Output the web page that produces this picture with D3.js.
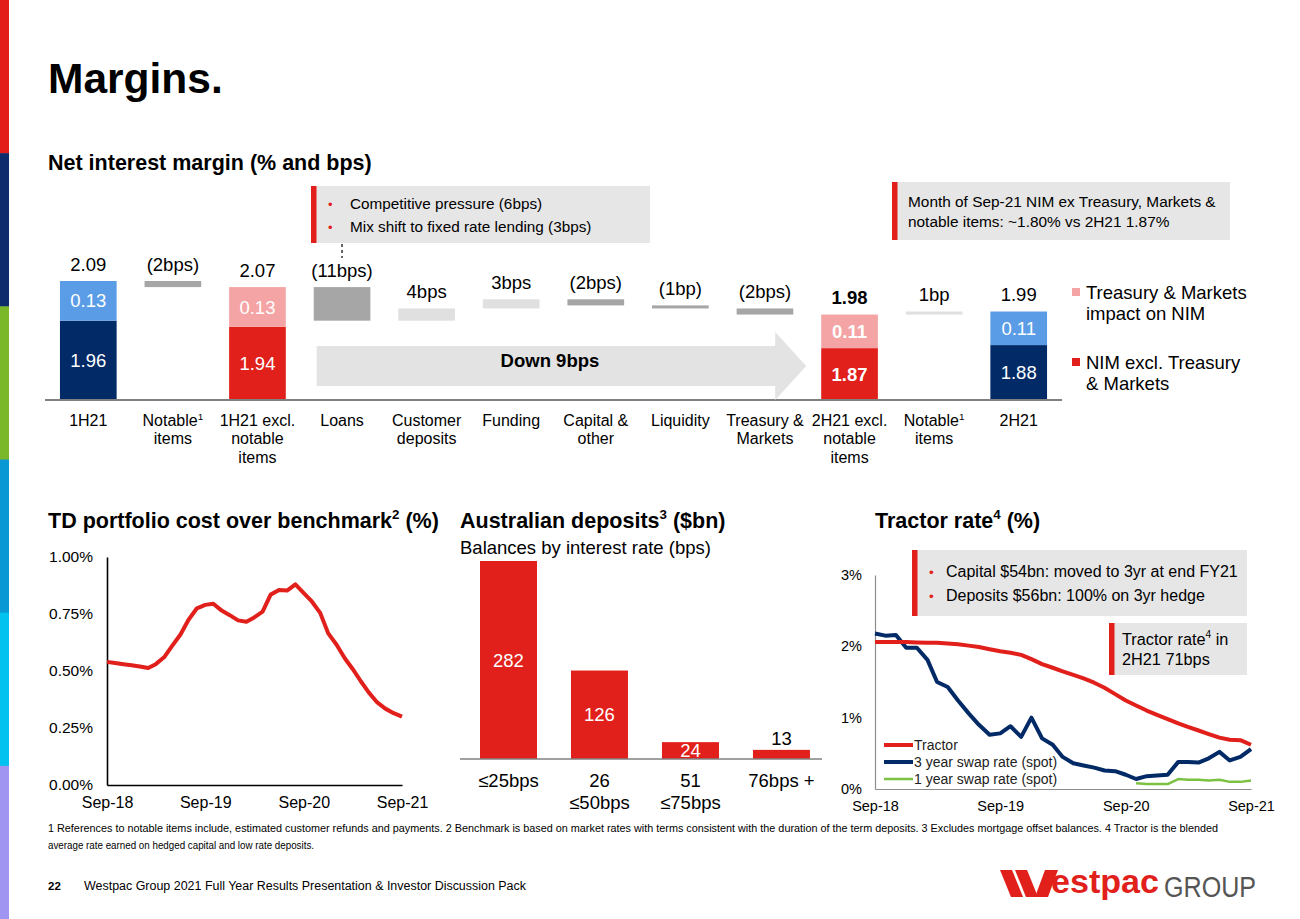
<!DOCTYPE html>
<html><head><meta charset="utf-8">
<script src="https://cdn.jsdelivr.net/npm/d3@7"></script>
<style>
body{margin:0;background:#fff}
svg{display:block;font-family:"Liberation Sans",Arial,sans-serif}
</style>
</head><body>
<svg id="c" width="1300" height="919"></svg>
<script>
// ---------------- DATA ----------------
// Net interest margin waterfall
const nimCategories = [["1H21"],["Notable^1","items"],["1H21 excl.","notable","items"],["Loans"],["Customer","deposits"],["Funding"],["Capital &","other"],["Liquidity"],["Treasury &","Markets"],["2H21 excl.","notable","items"],["Notable^1","items"],["2H21"]];
const nimKind = ["total","delta","total","delta","delta","delta","delta","delta","delta","total","delta","total"];
const nimValues = [2.09,-0.02,2.07,-0.11,0.04,0.03,-0.02,-0.01,-0.02,1.98,0.01,1.99];
const nimCore = [1.96,null,1.94,null,null,null,null,null,null,1.87,null,1.88];
const nimTreasury = [0.13,null,0.13,null,null,null,null,null,null,0.11,null,0.11];
const nimText = ["2.09","(2bps)","2.07","(11bps)","4bps","3bps","(2bps)","(1bp)","(2bps)","1.98","1bp","1.99"];
const nimLegend = [["Treasury & Markets","impact on NIM"],["NIM excl. Treasury","& Markets"]];

// TD portfolio cost over benchmark (%), monthly Sep-18 .. Sep-21
const tdValues = [0.54,0.535,0.53,0.525,0.52,0.513,0.53,0.56,0.61,0.66,0.725,0.775,0.79,0.795,0.765,0.745,0.722,0.716,0.735,0.76,0.835,0.855,0.853,0.88,0.842,0.805,0.755,0.665,0.615,0.555,0.51,0.455,0.405,0.362,0.335,0.315,0.30];
const tdTicks = [0,0.25,0.5,0.75,1];

// Australian deposits ($bn)
const depCategories = [["≤25bps"],["26","≤50bps"],["51","≤75bps"],["76bps +"]];
const depValues = [282,126,24,13];

// Tractor rate (%), monthly Sep-18 .. Sep-21
const tractorValues = [2.06,2.06,2.06,2.06,2.055,2.05,2.05,2.04,2.03,2.01,1.99,1.96,1.93,1.91,1.88,1.82,1.75,1.70,1.65,1.60,1.55,1.49,1.42,1.33,1.24,1.17,1.10,1.04,0.98,0.92,0.87,0.82,0.77,0.72,0.69,0.685,0.62];
const swap3Values = [2.18,2.15,2.16,1.98,1.98,1.81,1.50,1.43,1.24,1.06,0.90,0.76,0.78,0.88,0.73,1.00,0.71,0.62,0.45,0.36,0.33,0.30,0.26,0.25,0.20,0.14,0.18,0.19,0.20,0.38,0.38,0.37,0.43,0.52,0.40,0.45,0.56];
const swap1Values = [null,null,null,null,null,null,null,null,null,null,null,null,null,null,null,null,null,null,null,null,null,null,null,null,null,0.08,0.07,0.07,0.07,0.14,0.13,0.13,0.12,0.13,0.10,0.10,0.12];
const tractorSeries = ["Tractor","3 year swap rate (spot)","1 year swap rate (spot)"];
const tractorTicks = [0,1,2,3];
const dateTicks = ["Sep-18","Sep-19","Sep-20","Sep-21"];

// ---------------- STYLE ----------------
const RED="#e11f1b", NAVY="#012a66", LBLUE="#5a9ce6", PINK="#f4a4a4", DGREY="#a6a6a6", LGREY="#e0e0e0", BOX="#e6e6e6", GREEN="#7cc242";
const svg = d3.select("#c");

// left colour strip
const stripColors = ["#e31d1a","#0d2c6c","#7ab829","#0a98d4","#03c2f0","#a096f2"];
svg.selectAll("rect.strip").data(stripColors).join("rect").attr("class","strip")
  .attr("x",0).attr("y",(d,i)=>i*919/6).attr("width",9).attr("height",919/6+0.5).attr("fill",d=>d);

// helper: text with ^n superscripts
function rich(sel, str, size){
  const parts = str.split(/\^(\d)/);
  parts.forEach((p,i)=>{
    if(i%2===1){
      sel.append("tspan").attr("dy",-size*0.4).attr("font-size",size*0.62).text(p);
    } else if(p){
      const t = sel.append("tspan").text(p);
      if(i>0) t.attr("dy",size*0.4);
    }
  });
}
function txt(x,y,str,size,opts={}){
  const t = svg.append("text").attr("x",x).attr("y",y).attr("font-size",size)
    .attr("fill",opts.fill||"#000").attr("text-anchor",opts.anchor||"start")
    .attr("font-weight",opts.bold?"bold":"normal");
  rich(t,str,size);
  return t;
}

// Titles
txt(48,93,"Margins.",42.5,{bold:true});
txt(48,170,"Net interest margin (% and bps)",21.5,{bold:true});
txt(48,528,"TD portfolio cost over benchmark^2 (%)",21.5,{bold:true});
txt(460,528,"Australian deposits^3 ($bn)",21.5,{bold:true});
txt(875,528,"Tractor rate^4 (%)",21.5,{bold:true});

// ---------------- WATERFALL ----------------
const wx = d3.scaleBand().domain(d3.range(nimCategories.length)).range([46,1061]).paddingInner(0.33).paddingOuter(0.165);
const wy = d3.scaleLinear().domain([1.70,2.09]).range([400,281]);
let run = 0;
const wf = nimValues.map((v,i)=>{
  let s,e;
  if(nimKind[i]==="total"){ s=1.70; e=v; run=v; }
  else { s=run; e=run+v; run=e; }
  return {i,s,e,v,kind:nimKind[i]};
});
const wg = svg.append("g");
wf.forEach(d=>{
  const x = wx(d.i), bw = wx.bandwidth();
  const isExcl = nimCategories[d.i][0].includes("excl");
  const bold = d.i===9;
  if(d.kind==="delta"){
    wg.append("rect").attr("x",x).attr("width",bw)
      .attr("y",wy(Math.max(d.s,d.e))).attr("height",Math.abs(wy(d.s)-wy(d.e)))
      .attr("fill",d.v<0?DGREY:LGREY);
  } else {
    const core = nimCore[d.i];
    wg.append("rect").attr("x",x).attr("width",bw).attr("y",wy(core)).attr("height",wy(1.70)-wy(core))
      .attr("fill",isExcl?RED:NAVY);
    wg.append("rect").attr("x",x).attr("width",bw).attr("y",wy(d.e)).attr("height",wy(core)-wy(d.e))
      .attr("fill",isExcl?PINK:LBLUE);
    txt(x+bw/2,(wy(core)+wy(1.70))/2+6.6,d3.format(".2f")(core),18.5,{anchor:"middle",fill:"#fff",bold});
    txt(x+bw/2,(wy(core)+wy(d.e))/2+6.6,d3.format(".2f")(nimTreasury[d.i]),18.5,{anchor:"middle",fill:"#fff",bold});
  }
  txt(x+bw/2,wy(Math.max(d.s,d.e))-10.5,nimText[d.i],18.5,{anchor:"middle",bold});
  nimCategories[d.i].forEach((line,k)=>txt(x+bw/2,426+k*18.3,line,16,{anchor:"middle"}));
});
svg.append("line").attr("x1",45).attr("x2",1062).attr("y1",400).attr("y2",400).attr("stroke","#808080").attr("stroke-width",2);

// Down 9bps arrow
{
  const x0 = wx(3)+3, tip = wx(9)-15, hx = tip-31;
  const cy = 366;
  svg.append("path").attr("fill","#e3e3e3")
    .attr("d",`M${x0},${cy-20}H${hx}V${cy-34}L${tip},${cy}L${hx},${cy+34}V${cy+20}H${x0}Z`);
  txt((x0+hx)/2+4,cy+1,"Down 9bps",18.5,{anchor:"middle",bold:true});
}
// legend
[PINK,RED].forEach((c,i)=>{
  const y0 = 288+i*70;
  svg.append("rect").attr("x",1072).attr("y",y0).attr("width",8).attr("height",8).attr("fill",c);
  nimLegend[i].forEach((l,k)=>txt(1086,y0+11+k*21,l,18.5));
});

// annotation boxes
function box(x,y,w,h,lines,size,lineGap,bullets,tx){
  svg.append("rect").attr("x",x).attr("y",y).attr("width",w).attr("height",h).attr("fill",BOX);
  svg.append("rect").attr("x",x).attr("y",y).attr("width",5.5).attr("height",h).attr("fill",RED);
  const firstY = y + h/2 - (lines.length-1)*lineGap/2 + size*0.36;
  lines.forEach((l,k)=>{
    if(bullets) txt(x+17,firstY+k*lineGap,"•",size*0.85,{fill:RED});
    txt(tx,firstY+k*lineGap,l,size);
  });
}
box(311,186,339,57,["Competitive pressure (6bps)","Mix shift to fixed rate lending (3bps)"],15.3,23,true,350);
box(892,182,338,58,["Month of Sep-21 NIM ex Treasury, Markets &","notable items: ~1.80% vs 2H21 1.87%"],15.4,20,false,908);
svg.append("line").attr("x1",wx(3)+wx.bandwidth()/2).attr("x2",wx(3)+wx.bandwidth()/2)
  .attr("y1",244).attr("y2",258).attr("stroke","#333").attr("stroke-width",1.5).attr("stroke-dasharray","3,3");

// ---------------- TD PORTFOLIO ----------------
const months = d3.timeMonth.range(new Date(2018,8,1), new Date(2021,9,1));
const tickDates = dateTicks.map(s=>d3.timeParse("%b-%y")(s));
const tx = d3.scaleTime().domain([months[0],months[months.length-1]]).range([107,402]);
const ty = d3.scaleLinear().domain([0,1]).range([785,557]);
const tdG = svg.append("g");
tdG.append("g").attr("transform","translate(107,0)")
  .call(d3.axisLeft(ty).tickValues(tdTicks).tickFormat(d=>d.toFixed(2)+"%").tickSize(0).tickPadding(14))
  .call(g=>{g.select(".domain").attr("stroke","#000").attr("stroke-width",1.6);
           g.selectAll("text").attr("font-size",15.5).attr("font-family","Liberation Sans, Arial").attr("fill","#000");});
tdG.append("g").attr("transform","translate(0,785)")
  .call(d3.axisBottom(tx).tickValues(tickDates).tickFormat(d3.timeFormat("%b-%y")).tickSize(0).tickPadding(12))
  .call(g=>{g.select(".domain").attr("stroke","#000").attr("stroke-width",1.6);
           g.selectAll("text").attr("font-size",16).attr("font-family","Liberation Sans, Arial").attr("fill","#000");});
tdG.append("path").datum(tdValues).attr("fill","none").attr("stroke",RED).attr("stroke-width",4).attr("stroke-linejoin","round")
  .attr("d",d3.line().x((d,i)=>tx(months[i])).y(d=>ty(d)));

// ---------------- DEPOSITS ----------------
txt(460,554,"Balances by interest rate (bps)",18.5);
const dx = d3.scaleBand().domain(d3.range(depValues.length)).range([466.35,823.6]).paddingInner(0.3736).paddingOuter(0.15);
const dy = d3.scaleLinear().domain([0,282]).range([759,561]);
const dG = svg.append("g");
depValues.forEach((v,i)=>{
  const x = dx(i), bw = dx.bandwidth();
  dG.append("rect").attr("x",x).attr("width",bw).attr("y",dy(v)).attr("height",dy(0)-dy(v)).attr("fill",RED);
  if(v>=20) txt(x+bw/2,(dy(v)+dy(0))/2+6.6,String(v),18.5,{anchor:"middle",fill:"#fff"});
  else txt(x+bw/2,dy(v)-5,String(v),18.5,{anchor:"middle"});
  depCategories[i].forEach((l,k)=>txt(x+bw/2,787+k*22,l,18.5,{anchor:"middle"}));
});
svg.append("line").attr("x1",460).attr("x2",822).attr("y1",759).attr("y2",759).attr("stroke","#808080").attr("stroke-width",1.5);

// ---------------- TRACTOR ----------------
const rx = d3.scaleTime().domain([months[0],months[months.length-1]]).range([875,1251]);
const ry = d3.scaleLinear().domain([0,3]).range([789,575]);
const rG = svg.append("g");
box(912,550,335,66,["Capital $54bn: moved to 3yr at end FY21","Deposits $56bn: 100% on 3yr hedge"],16,24,true,946);
box(1109,623,138,52,["Tractor rate^4 in","2H21 71bps"],16.3,20,false,1122);
rG.append("g").attr("transform","translate(875,0)")
  .call(d3.axisLeft(ry).tickValues(tractorTicks).tickFormat(d=>d+"%").tickSize(0).tickPadding(13))
  .call(g=>{g.select(".domain").attr("stroke","#8c8c8c").attr("stroke-width",1.2);
           g.selectAll("text").attr("font-size",14.5).attr("font-family","Liberation Sans, Arial").attr("fill","#000");});
rG.append("g").attr("transform","translate(0,789)")
  .call(d3.axisBottom(rx).tickValues(tickDates).tickFormat(d3.timeFormat("%b-%y")).tickSize(0).tickPadding(12))
  .call(g=>{g.select(".domain").attr("stroke","#8c8c8c").attr("stroke-width",1.2);
           g.selectAll("text").attr("font-size",14.5).attr("font-family","Liberation Sans, Arial").attr("fill","#000");});
const seriesData = [tractorValues,swap3Values,swap1Values];
const seriesColor = [RED,NAVY,GREEN];
const seriesWidth = [4,4,2.5];
const rline = d3.line().defined(d=>d!=null).x((d,i)=>rx(months[i])).y(d=>ry(d));
[2,1,0].forEach(k=>{
  rG.append("path").datum(seriesData[k]).attr("fill","none").attr("stroke",seriesColor[k])
    .attr("stroke-width",seriesWidth[k]).attr("stroke-linejoin","round").attr("d",rline);
});
tractorSeries.forEach((s,k)=>{
  const y0 = 745+k*17;
  rG.append("line").attr("x1",884).attr("x2",913).attr("y1",y0).attr("y2",y0).attr("stroke",seriesColor[k]).attr("stroke-width",seriesWidth[k]);
  txt(914,y0+5,s,14,{fill:"#222"});
});

// ---------------- FOOTER ----------------
svg.append("text").attr("x",48).attr("y",832).attr("font-size",10.5).attr("textLength",1170).attr("lengthAdjust","spacingAndGlyphs")
  .text("1 References to notable items include, estimated customer refunds and payments. 2 Benchmark is based on market rates with terms consistent with the duration of the term deposits. 3 Excludes mortgage offset balances. 4 Tractor is the blended");
svg.append("text").attr("x",48).attr("y",849).attr("font-size",10.5).attr("textLength",266).attr("lengthAdjust","spacingAndGlyphs")
  .text("average rate earned on hedged capital and low rate deposits.");
svg.append("text").attr("x",48).attr("y",890).attr("font-size",11.5).attr("font-weight","bold").text("22");
svg.append("text").attr("x",84).attr("y",890).attr("font-size",12).attr("textLength",442).attr("lengthAdjust","spacingAndGlyphs")
  .text("Westpac Group 2021 Full Year Results Presentation & Investor Discussion Pack");

// logo
const logo = svg.append("g");
[[[1000,870],[1012,870],[1023,897],[1011,897]],
 [[1015,870],[1027,870],[1038,897],[1026,897]],
 [[1045,870],[1058,870],[1048,897],[1035,897]]].forEach(p=>
  logo.append("polygon").attr("points",p.map(q=>q.join(",")).join(" ")).attr("fill",RED));
logo.append("text").attr("x",1051).attr("y",893).attr("font-size",33).attr("font-weight","bold").attr("fill",RED)
  .attr("textLength",108).attr("lengthAdjust","spacingAndGlyphs").text("estpac");
logo.append("text").attr("x",1164).attr("y",897).attr("font-size",29).attr("fill","#555")
  .attr("textLength",92).attr("lengthAdjust","spacingAndGlyphs").text("GROUP");
</script>
</body></html>
